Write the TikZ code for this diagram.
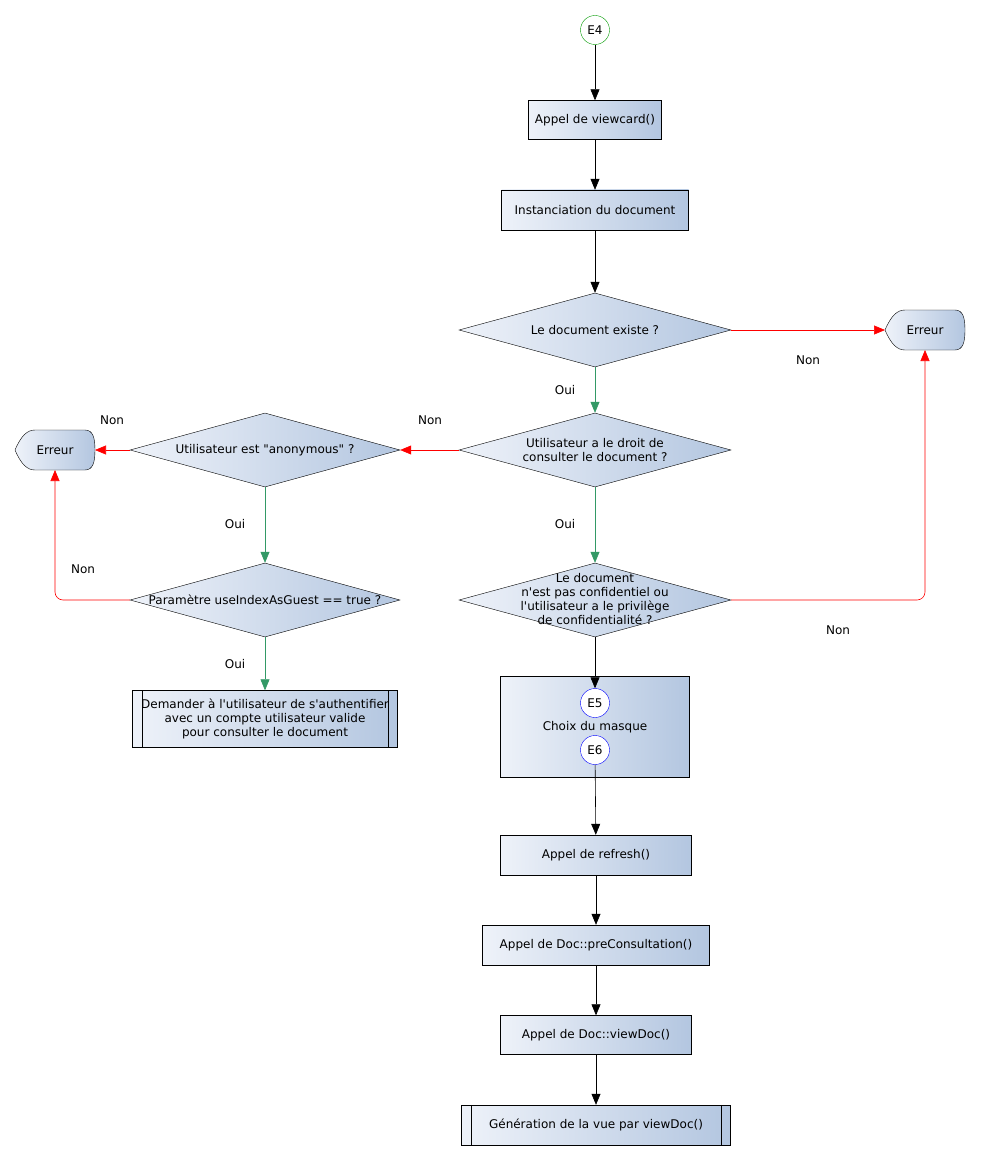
\documentclass[tikz,border=0pt]{standalone}
\usepackage{fontspec}
\setmainfont{DejaVu Sans}[Ligatures=TeXOff]
\usetikzlibrary{shapes.geometric,arrows.meta,calc}
\definecolor{gLight}{HTML}{EEF2F9}
\definecolor{gDark}{HTML}{B3C6E0}
\definecolor{okgreen}{HTML}{339966}
\tikzset{
  txt/.style={font=\fontsize{12}{14}\selectfont},
  box/.style={draw,rectangle,left color=gLight,right color=gDark,txt,align=center,inner sep=0pt},
  dec/.style={draw,diamond,left color=gLight,right color=gDark,aspect=3.7,txt,align=center,inner sep=0pt,minimum width=272pt,minimum height=74pt},
  conn/.style={draw,circle,fill=white,minimum size=29pt,inner sep=0pt,txt},
  flow/.style={-{Triangle[length=11pt,width=9pt]},line width=0.6pt},
  yes/.style={flow,draw=okgreen,-{Triangle[length=11pt,width=9pt,fill=okgreen]}},
  no/.style={flow,draw=red,rounded corners=8pt},
  lbl/.style={txt}
}
\newcommand{\errbox}[2]{%
  \path[draw,left color=gLight,right color=gDark] ($(#1)+(-40,0)$) coordinate (#2w)
    .. controls ($(#1)+(-34,-14)$) and ($(#1)+(-28,-20)$) .. ($(#1)+(-20,-20)$)
    -- ($(#1)+(30,-20)$) .. controls ($(#1)+(38,-20)$) and ($(#1)+(40,-12)$) .. ($(#1)+(40,0)$)
    .. controls ($(#1)+(40,12)$) and ($(#1)+(38,20)$) .. ($(#1)+(30,20)$)
    -- ($(#1)+(-20,20)$) .. controls ($(#1)+(-28,20)$) and ($(#1)+(-34,14)$) .. cycle;
  \node[lbl] (#2) at (#1) {Erreur};
  \coordinate (#2e) at ($(#1)+(40,0)$);
  \coordinate (#2s) at ($(#1)+(0,20)$);}
\newcommand{\predef}[5]{%
  \node[box,minimum width=#3pt,minimum height=#4pt] (#2) at (#1) {#5};
  \draw ($(#2.north west)+(10,0)$) -- ($(#2.south west)+(10,0)$);
  \draw ($(#2.north east)+(-10,0)$) -- ($(#2.south east)+(-10,0)$);}
\begin{document}
\begin{tikzpicture}[x=1pt,y=-1pt]
  \useasboundingbox (0,0) rectangle (980,1161);
  \node[conn,draw=green!60!black] (e4) at (595,30) {E4};
  \node[box,minimum width=133pt,minimum height=39pt] (viewcard) at (595,120) {Appel de viewcard()};
  \node[box,minimum width=187pt,minimum height=40pt] (inst) at (595,210) {Instanciation du document};
  \node[dec] (exists) at (595,330) {Le document existe ?};
  \node[dec] (right) at (595,450) {Utilisateur a le droit de\\consulter le document ?};
  \node[dec,minimum width=270pt] (anon) at (265,450) {Utilisateur est "anonymous" ?};
  \node[dec,minimum width=270pt] (guest) at (265,600) {Paramètre useIndexAsGuest == true ?};
  \node[dec] (conf) at (595,600) {};
  \node[txt,align=center] (conftxt) at (595,599) {Le document\\n'est pas confidentiel ou\\l'utilisateur a le privilège\\de confidentialité ?};
  \errbox{925,330}{errR}
  \errbox{55,450}{errL}
  \predef{265,719}{auth}{265}{57}{Demander à l'utilisateur de s'authentifier\\avec un compte utilisateur valide\\pour consulter le document}
  \node[box,minimum width=189pt,minimum height=101pt] (mask) at (595,727) {Choix du masque};
  \node[conn,draw=blue] (e5) at (595,703) {E5};
  \node[conn,draw=blue] (e6) at (595,750) {E6};
  \node[box,minimum width=191pt,minimum height=40pt] (refresh) at (596,855) {Appel de refresh()};
  \node[box,minimum width=227pt,minimum height=40pt] (precons) at (596,945) {Appel de Doc::preConsultation()};
  \node[box,minimum width=191pt,minimum height=39pt] (viewdoc) at (596,1035) {Appel de Doc::viewDoc()};
  \predef{596,1125}{gen}{269}{40}{Génération de la vue par viewDoc()}

  \draw[flow] (e4) -- (viewcard);
  \draw[flow] (viewcard) -- (inst);
  \draw[flow] (inst) -- (exists);
  \draw[no] (exists.east) -- (errRw);
  \node[lbl] (n1) at (808,360) {Non};
  \draw[yes] (exists) -- (right);
  \node[lbl] (o1) at (565,390) {Oui};
  \draw[no] (right.west) -- (anon.east);
  \node[lbl] (n2) at (430,420) {Non};
  \draw[no] (anon.west) -- (errLe);
  \node[lbl] (n3) at (112,420) {Non};
  \draw[yes] (anon) -- (guest);
  \node[lbl] (o2) at (235,524) {Oui};
  \draw[no] (guest.west) -| (errLs);
  \node[lbl] (n4) at (83,569) {Non};
  \draw[yes] (guest) -- (auth);
  \node[lbl] (o3) at (235,664) {Oui};
  \draw[yes] (right) -- (conf);
  \node[lbl] (o4) at (565,524) {Oui};
  \draw[no] (conf.east) -| (errRs);
  \node[lbl] (n5) at (838,630) {Non};
  \draw[flow] (conf) -- (e5);
  \draw[flow] (e6) -- (refresh);
  \draw[flow] (refresh) -- (precons);
  \draw[flow] (precons) -- (viewdoc);
  \draw[flow] (viewdoc) -- (gen);
\end{tikzpicture}
\end{document}
